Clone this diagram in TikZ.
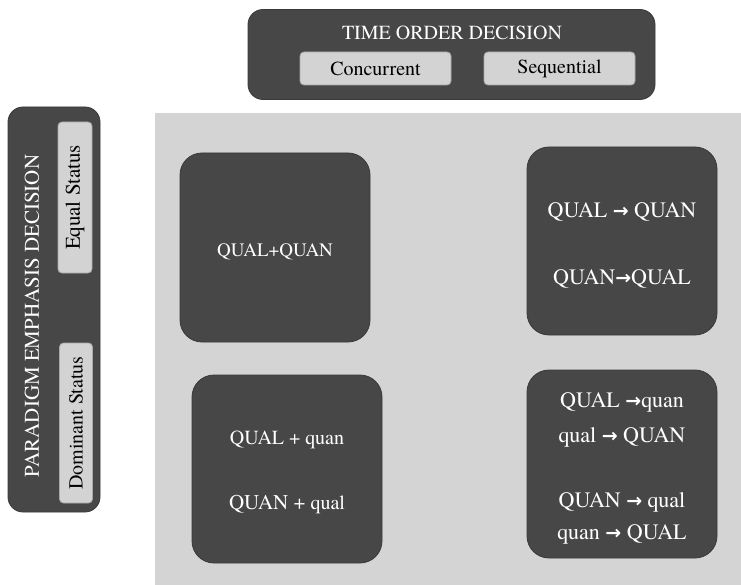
\documentclass[tikz,border=0pt]{standalone}
\usepackage{fontspec}
\setmainfont{texgyretermes}[Extension=.otf, UprightFont=*-regular, BoldFont=*-bold, ItalicFont=*-italic, BoldItalicFont=*-bolditalic]
\newfontfamily\arrfont{DejaVu Sans}
\newcommand{\ar}{{\arrfont\bfseries\fontsize{19}{19}\selectfont →}}
\definecolor{darkbox}{HTML}{474747}
\definecolor{lightbox}{HTML}{D3D3D3}
\definecolor{lightedge}{HTML}{A8A8A8}
\definecolor{bgarea}{HTML}{D4D4D4}
\begin{document}
\begin{tikzpicture}[x=1pt,y=-1pt,
  darkpanel/.style={fill=darkbox, draw=darkbox!80!black, line width=0.8pt, rounded corners=15pt, inner sep=0pt},
  quadbox/.style={fill=darkbox, draw=darkbox!80!black, line width=0.8pt, rounded corners=22pt, minimum width=190pt, minimum height=188pt, inner sep=0pt},
  quadtext/.style={text=white, align=center, inner sep=0pt, font=\fontsize{22}{26}\selectfont},
  optbox/.style={fill=lightbox, draw=lightedge, line width=0.8pt, rounded corners=4pt, inner sep=0pt, font=\fontsize{20}{22}\selectfont},
  paneltitle/.style={text=white, inner sep=0pt, font=\fontsize{20}{22}\selectfont}]
\useasboundingbox (0,0) rectangle (741,585);
\fill[white] (0,0) rectangle (741,585);
% background area
\node[fill=bgarea, minimum width=586pt, minimum height=472pt, inner sep=0pt, anchor=north west] (area) at (155,113) {};
% top panel
\node[darkpanel, minimum width=407pt, minimum height=90pt] (top) at (451.5,54.5) {};
\node[paneltitle] (toptitle) at (452,32.5) {TIME ORDER DECISION};
\node[optbox, minimum width=151pt, minimum height=33pt] (conc) at (375.5,68.5) {Concurrent};
\node[optbox, minimum width=151pt, minimum height=33pt] (seq) at (559.5,68.5) {Sequential};
% left panel
\node[darkpanel, minimum width=92pt, minimum height=405pt] (left) at (54,309.5) {};
\node[paneltitle, rotate=90, font=\fontsize{21}{22}\selectfont] (lefttitle) at (32,316) {PARADIGM EMPHASIS DECISION};
\node[optbox, rotate=90, minimum width=151pt, minimum height=34pt, font=\fontsize{21}{22}\selectfont] (equal) at (75,197.5) {Equal Status};
\node[optbox, rotate=90, minimum width=160pt, minimum height=33pt] (dom) at (76,423) {Dominant Status};
% quadrants
\node[quadbox, minimum height=189pt] (q1) at (275,247.5) {};
\node[quadbox] (q2) at (622,241) {};
\node[quadbox] (q3) at (287,469) {};
\node[quadbox] (q4) at (622,464) {};
\node[quadtext, font=\fontsize{19}{22}\selectfont] (q1t) at (275,252) {QUAL+QUAN};
\node[quadtext] (q2t) at (622,246) {QUAL \ar{} QUAN\\[41pt]QUAN\ar QUAL};
\node[quadtext, font=\fontsize{20}{24}\selectfont] (q3t) at (287,472.5) {QUAL + quan\\[41pt]{\fontsize{21}{24}\selectfont QUAN + }qual};
\node[quadtext] (q4t) at (622,468) {QUAL \ar quan\\[9pt]qual \ar{} QUAN\\[39pt]QUAN \ar{} qual\\[6pt]quan \ar{} QUAL};
\end{tikzpicture}
\end{document}
